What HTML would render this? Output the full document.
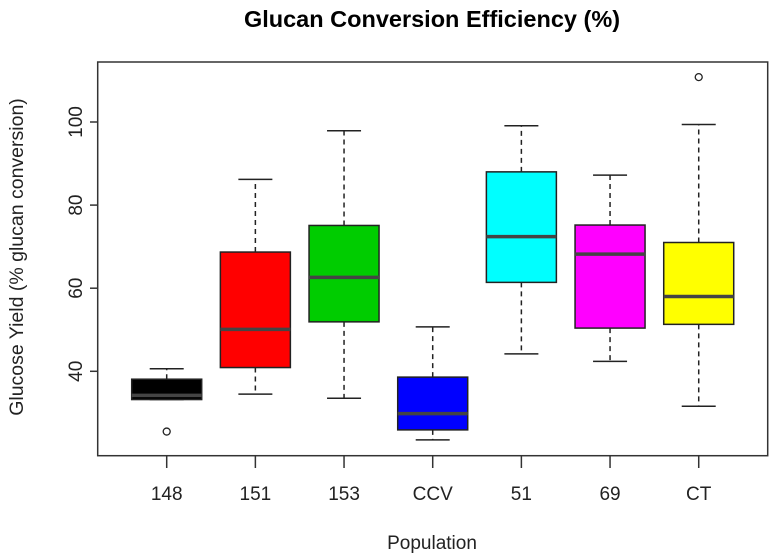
<!DOCTYPE html>
<html><head><meta charset="utf-8"><style>
html,body{margin:0;padding:0;background:#fff;}
svg{display:block;font-family:"Liberation Sans",Arial,sans-serif;}
</style></head><body>
<svg id="chart" width="773" height="558" viewBox="0 0 773 558">
<text x="432" y="27" text-anchor="middle" font-size="23.5" font-weight="bold" fill="#000">Glucan Conversion Efficiency (%)</text>
<text x="432" y="549" text-anchor="middle" font-size="19" fill="#222">Population</text>
<text transform="translate(23,257) rotate(-90)" text-anchor="middle" font-size="19.5" fill="#222">Glucose Yield (% glucan conversion)</text>
<rect x="97.7" y="62" width="670" height="393.7" fill="none" stroke="#333" stroke-width="1.5"/>
<g id="marks"></g>
</svg>
<script>
const categories=["148","151","153","CCV","51","69","CT"];
const colors=["#000000","#ff0000","#00cc00","#0000ff","#00ffff","#ff00ff","#ffff00"];
const whiskerLow=[33.2,34.5,33.5,23.5,44.2,42.4,31.6];
const q1=[33.2,40.9,51.9,25.9,61.4,50.4,51.3];
const medians=[34.2,50.1,62.6,29.8,72.4,68.2,58.0];
const q3=[38.1,68.7,75.1,38.6,88.0,75.2,71.0];
const whiskerHigh=[40.6,86.2,97.9,50.7,99.1,87.2,99.4];
const outliers=[[25.5],[],[],[],[],[],[110.8]];
const yTicks=[40,60,80,100];

const NS="http://www.w3.org/2000/svg";
const g=document.getElementById('marks');
const y=v=>371.3-(v-40)*4.155;
const x=i=>166.7+i*88.67;
function mk(tag,attrs){const e=document.createElementNS(NS,tag);for(const k in attrs)e.setAttribute(k,attrs[k]);g.appendChild(e);return e;}
yTicks.forEach(t=>{
  const l=mk('line',{x1:90,x2:97.7,y1:y(t),y2:y(t),stroke:'#333','stroke-width':1.5});
  
  
  const tx=mk('text',{transform:`translate(82,${y(t)}) rotate(-90)`,'text-anchor':'middle','font-size':19,fill:'#222'});
  tx.textContent=t;
  
  
});
categories.forEach((c,i)=>{
  const cx=x(i),hw=35,cw=17;
  const tk=mk('line',{x1:cx,x2:cx,y1:455.7,y2:468,stroke:'#333','stroke-width':1.5});
  
  
  const tl=mk('text',{x:cx,y:500,'text-anchor':'middle','font-size':19,fill:'#222'});
  tl.textContent=c;
  
  
  const w1=mk('line',{x1:cx,x2:cx,y1:y(q3[i]),y2:y(whiskerHigh[i]),stroke:'#222','stroke-width':1.5,'stroke-dasharray':'5,4'});
  
  
  const w2=mk('line',{x1:cx,x2:cx,y1:y(q1[i]),y2:y(whiskerLow[i]),stroke:'#222','stroke-width':1.5,'stroke-dasharray':'5,4'});
  
  
  const c1=mk('line',{x1:cx-cw,x2:cx+cw,y1:y(whiskerHigh[i]),y2:y(whiskerHigh[i]),stroke:'#222','stroke-width':1.5});
  
  
  const c2=mk('line',{x1:cx-cw,x2:cx+cw,y1:y(whiskerLow[i]),y2:y(whiskerLow[i]),stroke:'#222','stroke-width':1.5});
  
  
  const b=mk('rect',{x:cx-hw,y:y(q3[i]),width:hw*2,height:y(q1[i])-y(q3[i]),fill:colors[i],stroke:'#222','stroke-width':1.5});
  
  
  const m=mk('line',{x1:cx-hw,x2:cx+hw,y1:y(medians[i]),y2:y(medians[i]),stroke:'#444','stroke-width':3.5});
  
  
  outliers[i].forEach(o=>{
    const p=mk('circle',{cx:cx,cy:y(o),r:3.5,fill:'none',stroke:'#222','stroke-width':1.3});
    
    
  });
});
</script>
</body></html>
